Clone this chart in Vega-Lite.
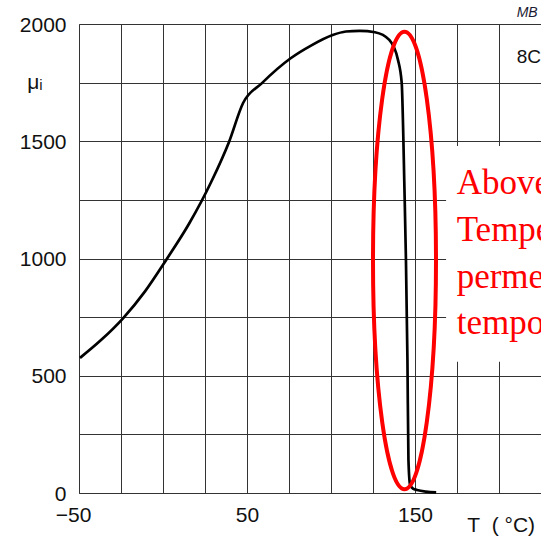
{
  "$schema": "https://vega.github.io/schema/vega-lite/v6.json",
  "width": 462,
  "height": 469,
  "autosize": {"type": "none"},
  "padding": {"left": 79, "top": 24, "right": 0, "bottom": 44},
  "background": "white",
  "config": {
    "view": {"stroke": null},
    "font": "Liberation Sans",
    "axis": {
      "grid": true,
      "gridColor": "#333333",
      "gridWidth": 1,
      "gridOpacity": 1,
      "domain": true,
      "domainColor": "#333333",
      "domainWidth": 1,
      "ticks": false,
      "labelFlush": false,
      "labelFont": "Liberation Sans",
      "labelFontSize": 21,
      "labelColor": "#111111",
      "labelOverlap": false,
      "titleFont": "Liberation Sans",
      "titleFontSize": 21,
      "titleFontWeight": "normal",
      "titleColor": "#111111"
    }
  },
  "datasets": {
    "curve": [
      {"T": -49.4, "mu": 576},
      {"T": -36.9, "mu": 652},
      {"T": -23.8, "mu": 745},
      {"T": -10.7, "mu": 860},
      {"T": 1.8, "mu": 993},
      {"T": 15.5, "mu": 1148},
      {"T": 28.6, "mu": 1325},
      {"T": 39.3, "mu": 1497},
      {"T": 47.6, "mu": 1662},
      {"T": 58.9, "mu": 1748},
      {"T": 76, "mu": 1854},
      {"T": 88.1, "mu": 1908},
      {"T": 101, "mu": 1953},
      {"T": 108.9, "mu": 1968},
      {"T": 117.1, "mu": 1971},
      {"T": 126.2, "mu": 1965},
      {"T": 134.7, "mu": 1932},
      {"T": 139.9, "mu": 1846},
      {"T": 142.1, "mu": 1748},
      {"T": 143, "mu": 1534},
      {"T": 143.6, "mu": 1335},
      {"T": 144.6, "mu": 998},
      {"T": 145.5, "mu": 567},
      {"T": 146.1, "mu": 141},
      {"T": 147.1, "mu": 34},
      {"T": 148.8, "mu": 19},
      {"T": 151.2, "mu": 13},
      {"T": 156.5, "mu": 6},
      {"T": 162.6, "mu": 3}
    ],
    "ring": [{"T": 143.75, "mu": 991.5}],
    "box": [{"T": 168.5, "T2": 225, "mu": 560, "mu2": 1480}],
    "note": [
      {"T": 174.8, "mu": 1274, "label": "Above Curie"},
      {"T": 174.8, "mu": 1075, "label": "Temperature,"},
      {"T": 174.8, "mu": 874, "label": "permeability"},
      {"T": 174.8, "mu": 676, "label": "temporarily lost"}
    ],
    "material": [{"T": 210.5, "mu": 1832, "label": "8C11"}],
    "corner": [{"T": 210.5, "mu": 2031, "label": "MB"}]
  },
  "encoding": {
    "x": {
      "field": "T",
      "type": "quantitative",
      "scale": {"domain": [-50, 225], "nice": false, "zero": false},
      "axis": {
        "values": [-50, -25, 0, 25, 50, 75, 100, 125, 150, 175, 200],
        "format": "d",
        "labelExpr": "(datum.value + 50) % 100 === 0 ? datum.label : ''",
        "labelPadding": 11,
        "labelOffset": {"condition": {"test": "datum.value < 0", "value": -6}, "value": 0},
        "title": "T\u00a0\u00a0( °C)",
        "titleX": 387.7,
        "titleY": 38.7,
        "titleAlign": "left",
        "titleBaseline": "alphabetic"
      }
    },
    "y": {
      "field": "mu",
      "type": "quantitative",
      "scale": {"domain": [0, 2000], "nice": false},
      "axis": {
        "values": [0, 250, 500, 750, 1000, 1250, 1500, 1750, 2000],
        "format": "d",
        "labelExpr": "datum.value % 500 === 0 ? datum.label : ''",
        "labelPadding": 13,
        "labelOffset": 1,
        "title": "μᵢ",
        "titleAngle": 0,
        "titleX": -52.3,
        "titleY": 64,
        "titleAlign": "left",
        "titleBaseline": "alphabetic"
      }
    }
  },
  "layer": [
    {
      "data": {"name": "curve"},
      "mark": {"type": "line", "color": "#000000", "strokeWidth": 2.7, "interpolate": "monotone"}
    },
    {
      "data": {"name": "ring"},
      "mark": {
        "type": "point",
        "shape": "M0,-1C0.076,-1,0.1377,-0.5523,0.1377,0C0.1377,0.5523,0.076,1,0,1C-0.076,1,-0.1377,0.5523,-0.1377,0C-0.1377,-0.5523,-0.076,-1,0,-1Z",
        "filled": false,
        "stroke": "#ff0000",
        "strokeWidth": 4,
        "size": 209400,
        "opacity": 1
      }
    },
    {
      "data": {"name": "box"},
      "mark": {"type": "rect", "color": "#ffffff"},
      "encoding": {
        "x2": {"field": "T2"},
        "y2": {"field": "mu2"}
      }
    },
    {
      "data": {"name": "note"},
      "mark": {
        "type": "text",
        "align": "left",
        "baseline": "alphabetic",
        "font": "Liberation Serif",
        "fontSize": 35,
        "color": "#ff0000",
        "clip": true
      },
      "encoding": {"text": {"field": "label", "type": "nominal"}}
    },
    {
      "data": {"name": "material"},
      "mark": {
        "type": "text",
        "align": "left",
        "baseline": "alphabetic",
        "font": "Liberation Sans",
        "fontSize": 19,
        "color": "#111111",
        "clip": true
      },
      "encoding": {"text": {"field": "label", "type": "nominal"}}
    },
    {
      "data": {"name": "corner"},
      "mark": {
        "type": "text",
        "align": "left",
        "baseline": "alphabetic",
        "font": "Liberation Sans",
        "fontSize": 14,
        "fontStyle": "italic",
        "color": "#1a1a33"
      },
      "encoding": {"text": {"field": "label", "type": "nominal"}}
    }
  ]
}
